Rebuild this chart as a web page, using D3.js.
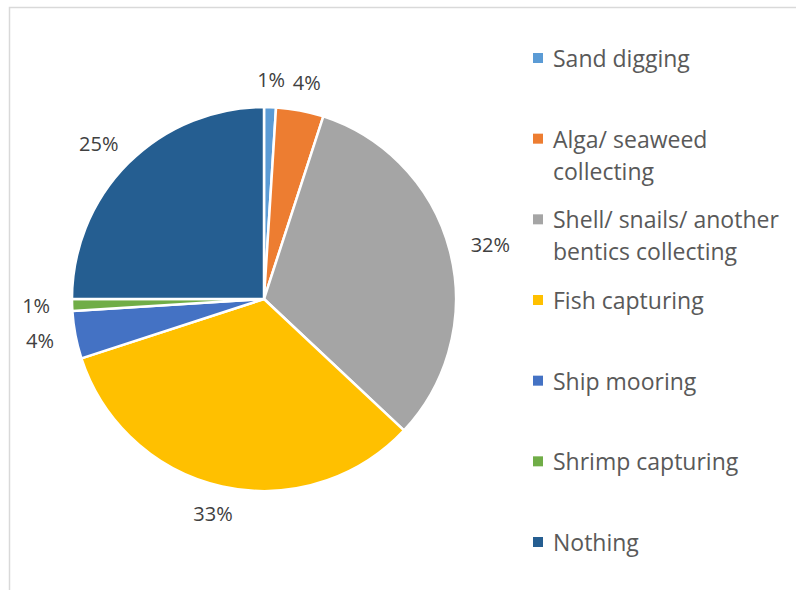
<!DOCTYPE html>
<html>
<head>
<meta charset="utf-8">
<script src="https://cdn.jsdelivr.net/npm/d3@7/dist/d3.min.js"></script>
<style>
  html, body { margin: 0; padding: 0; background: #fff; }
  svg { display: block; }
  text { font-family: "Open Sans", "Liberation Sans", sans-serif; }
</style>
</head>
<body>
<svg id="chart" width="796" height="590"></svg>
<script>
// Activities carried out in the coastal area (share of respondents, %)
const categories = [
  "Sand digging",
  "Alga/ seaweed collecting",
  "Shell/ snails/ another bentics collecting",
  "Fish capturing",
  "Ship mooring",
  "Shrimp capturing",
  "Nothing"
];
const values = [1, 4, 32, 33, 4, 1, 25];
const legendLines = [
  ["Sand digging"],
  ["Alga/ seaweed", "collecting"],
  ["Shell/ snails/ another", "bentics collecting"],
  ["Fish capturing"],
  ["Ship mooring"],
  ["Shrimp capturing"],
  ["Nothing"]
];
const colors = ["#5B9BD5", "#ED7D31", "#A5A5A5", "#FFC000", "#4472C4", "#70AD47", "#255E91"];

const svg = d3.select("#chart");

// Chart area frame
svg.append("rect")
  .attr("x", 9.5).attr("y", 7.5)
  .attr("width", 800).attr("height", 600)
  .attr("fill", "none")
  .attr("stroke", "#d9d9d9")
  .attr("stroke-width", 1.5);

const cx = 264, cy = 299, radius = 192, labelGap = 22;

const color = d3.scaleOrdinal().domain(categories).range(colors);

const pie = d3.pie().sort(null).value(d => d.value);
const data = categories.map((c, i) => ({ category: c, value: values[i] }));
const arcs = pie(data);

const arc = d3.arc().innerRadius(0).outerRadius(radius);

const g = svg.append("g").attr("transform", `translate(${cx},${cy})`);

g.selectAll("path.slice")
  .data(arcs)
  .join("path")
  .attr("class", "slice")
  .attr("d", arc)
  .attr("fill", d => color(d.data.category))
  .attr("stroke", "#fff")
  .attr("stroke-width", 2.5)
  .attr("stroke-linejoin", "round");

// Percentage labels placed just outside the rim, pushed out by half their own width
g.selectAll("text.pct")
  .data(arcs)
  .join("text")
  .attr("class", "pct")
  .attr("text-anchor", "middle")
  .attr("dominant-baseline", "central")
  .attr("font-size", 20)
  .attr("fill", "#404040")
  .text(d => d.data.value + "%")
  .each(function(d) {
    const w = this.getBBox().width;
    const a = (d.startAngle + d.endAngle) / 2;
    const s = Math.sin(a), c = Math.cos(a);
    const r = radius + labelGap;
    const x = r * s + (w / 2) * s;
    const y = -r * c - 6 * c;
    d3.select(this).attr("transform", `translate(${x},${y})`);
  });

// Legend
const legendX = 533;
const legendY = d3.scalePoint()
  .domain(categories)
  .range([58, 542]);
const lineH = 32;

const items = svg.selectAll("g.legend")
  .data(categories)
  .join("g")
  .attr("class", "legend")
  .attr("transform", d => `translate(${legendX},${legendY(d)})`);

items.append("rect")
  .attr("x", 0).attr("y", -5)
  .attr("width", 10).attr("height", 10)
  .attr("fill", d => color(d));

items.each(function(d, i) {
  d3.select(this).selectAll("text")
    .data(legendLines[i])
    .join("text")
    .attr("x", 20)
    .attr("y", (t, j) => j * lineH)
    .attr("dominant-baseline", "central")
    .attr("font-size", 23)
    .attr("fill", "#595959")
    .text(t => t);
});
</script>
</body>
</html>
